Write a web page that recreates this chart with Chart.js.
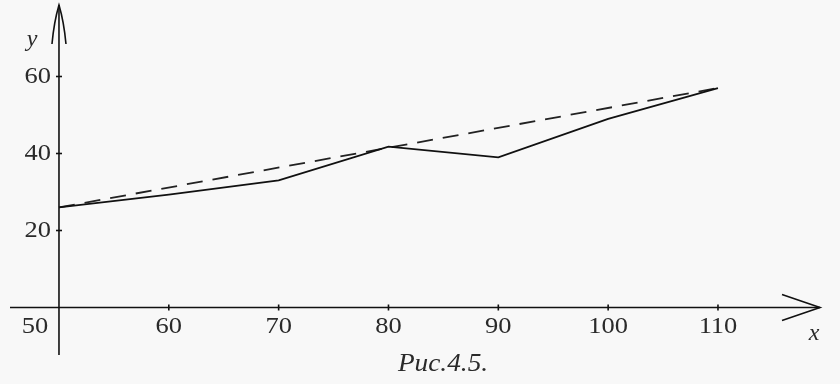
<!DOCTYPE html>
<html>
<head>
<meta charset="utf-8">
<script src="https://cdn.jsdelivr.net/npm/chart.js@4/dist/chart.umd.min.js"></script>
<style>
html,body{margin:0;padding:0;background:#f8f8f8;}
#wrap{width:840px;height:384px;position:relative;}
</style>
</head>
<body>
<div id="wrap"><canvas id="c" width="840" height="384"></canvas></div>
<script>
// Data
const solidX = [50, 60, 70, 80, 90, 100, 110];
const solidY = [26, 29.3, 33, 41.8, 39, 49, 57];
const dashedX = [50, 110];
const dashedY = [26, 57];
const xTicks = [50, 60, 70, 80, 90, 100, 110];
const yTicks = [20, 40, 60];
const xAxisTitle = 'x';
const yAxisTitle = 'y';
const caption = 'Рис.4.5.';

const solidData = solidX.map((x, i) => ({x, y: solidY[i]}));
const dashedData = dashedX.map((x, i) => ({x, y: dashedY[i]}));

function wideText(ctx, txt, x, y, sx) {
  ctx.save();
  ctx.translate(x, y);
  ctx.scale(sx, 1);
  ctx.fillText(txt, 0, 0);
  ctx.restore();
}

const axesPlugin = {
  id: 'axesPlugin',
  beforeDatasetsDraw(chart) {
    const ctx = chart.ctx;
    const xs = chart.scales.x, ys = chart.scales.y;
    const x0 = xs.getPixelForValue(50);
    const y0 = ys.getPixelForValue(0);
    ctx.save();
    ctx.strokeStyle = '#111';
    ctx.lineWidth = 1.6;
    // x axis
    ctx.beginPath();
    ctx.moveTo(10, y0); ctx.lineTo(820, y0);
    ctx.stroke();
    // x arrow
    ctx.beginPath();
    ctx.moveTo(782, y0 - 13); ctx.lineTo(820, y0); ctx.lineTo(782, y0 + 13);
    ctx.stroke();
    // y axis
    ctx.beginPath();
    ctx.moveTo(x0, 355); ctx.lineTo(x0, 5);
    ctx.stroke();
    // y arrow
    ctx.beginPath();
    ctx.moveTo(x0 - 7, 44); ctx.quadraticCurveTo(x0 - 5, 22, x0, 5);
    ctx.quadraticCurveTo(x0 + 5, 22, x0 + 7, 44);
    ctx.stroke();
    // ticks
    xTicks.forEach(v => {
      if (v === 50) return;
      const px = xs.getPixelForValue(v);
      ctx.beginPath(); ctx.moveTo(px, y0 - 3); ctx.lineTo(px, y0 + 3); ctx.stroke();
    });
    yTicks.forEach(v => {
      const py = ys.getPixelForValue(v);
      ctx.beginPath(); ctx.moveTo(x0 - 3, py); ctx.lineTo(x0 + 3, py); ctx.stroke();
    });
    // labels
    ctx.fillStyle = '#2a2a2a';
    ctx.font = '23px "Liberation Serif", "DejaVu Serif", serif';
    ctx.textBaseline = 'middle';
    ctx.textAlign = 'center';
    xTicks.forEach(v => {
      let px = xs.getPixelForValue(v);
      if (v === 50) px = 35;
      wideText(ctx, String(v), px, y0 + 19, 1.15);
    });
    ctx.textAlign = 'right';
    yTicks.forEach(v => {
      const py = ys.getPixelForValue(v);
      wideText(ctx, String(v), x0 - 8, py, 1.15);
    });
    ctx.font = 'italic 24px "Liberation Serif", "DejaVu Serif", serif';
    ctx.textAlign = 'center';
    ctx.fillText(yAxisTitle, 32, 40);
    ctx.fillText(xAxisTitle, 814, 334);
    ctx.font = 'italic 26px "Liberation Serif", "DejaVu Serif", serif';
    wideText(ctx, caption, 443, 364, 1.05);
    ctx.restore();
  }
};

new Chart(document.getElementById('c'), {
  type: 'line',
  data: {
    datasets: [
      {data: solidData, borderColor: '#111', borderWidth: 1.8, pointRadius: 0, fill: false, tension: 0},
      {data: dashedData, borderColor: '#222', borderWidth: 1.8, borderDash: [16, 10], pointRadius: 0, fill: false, tension: 0}
    ]
  },
  options: {
    responsive: false,
    animation: false,
    layout: {padding: 0},
    plugins: {legend: {display: false}, tooltip: {enabled: false}},
    scales: {
      x: {type: 'linear', min: 44.63, max: 121.11, display: false},
      y: {type: 'linear', min: -19.87, max: 79.87, display: false}
    }
  },
  plugins: [axesPlugin]
});
</script>
</body>
</html>
